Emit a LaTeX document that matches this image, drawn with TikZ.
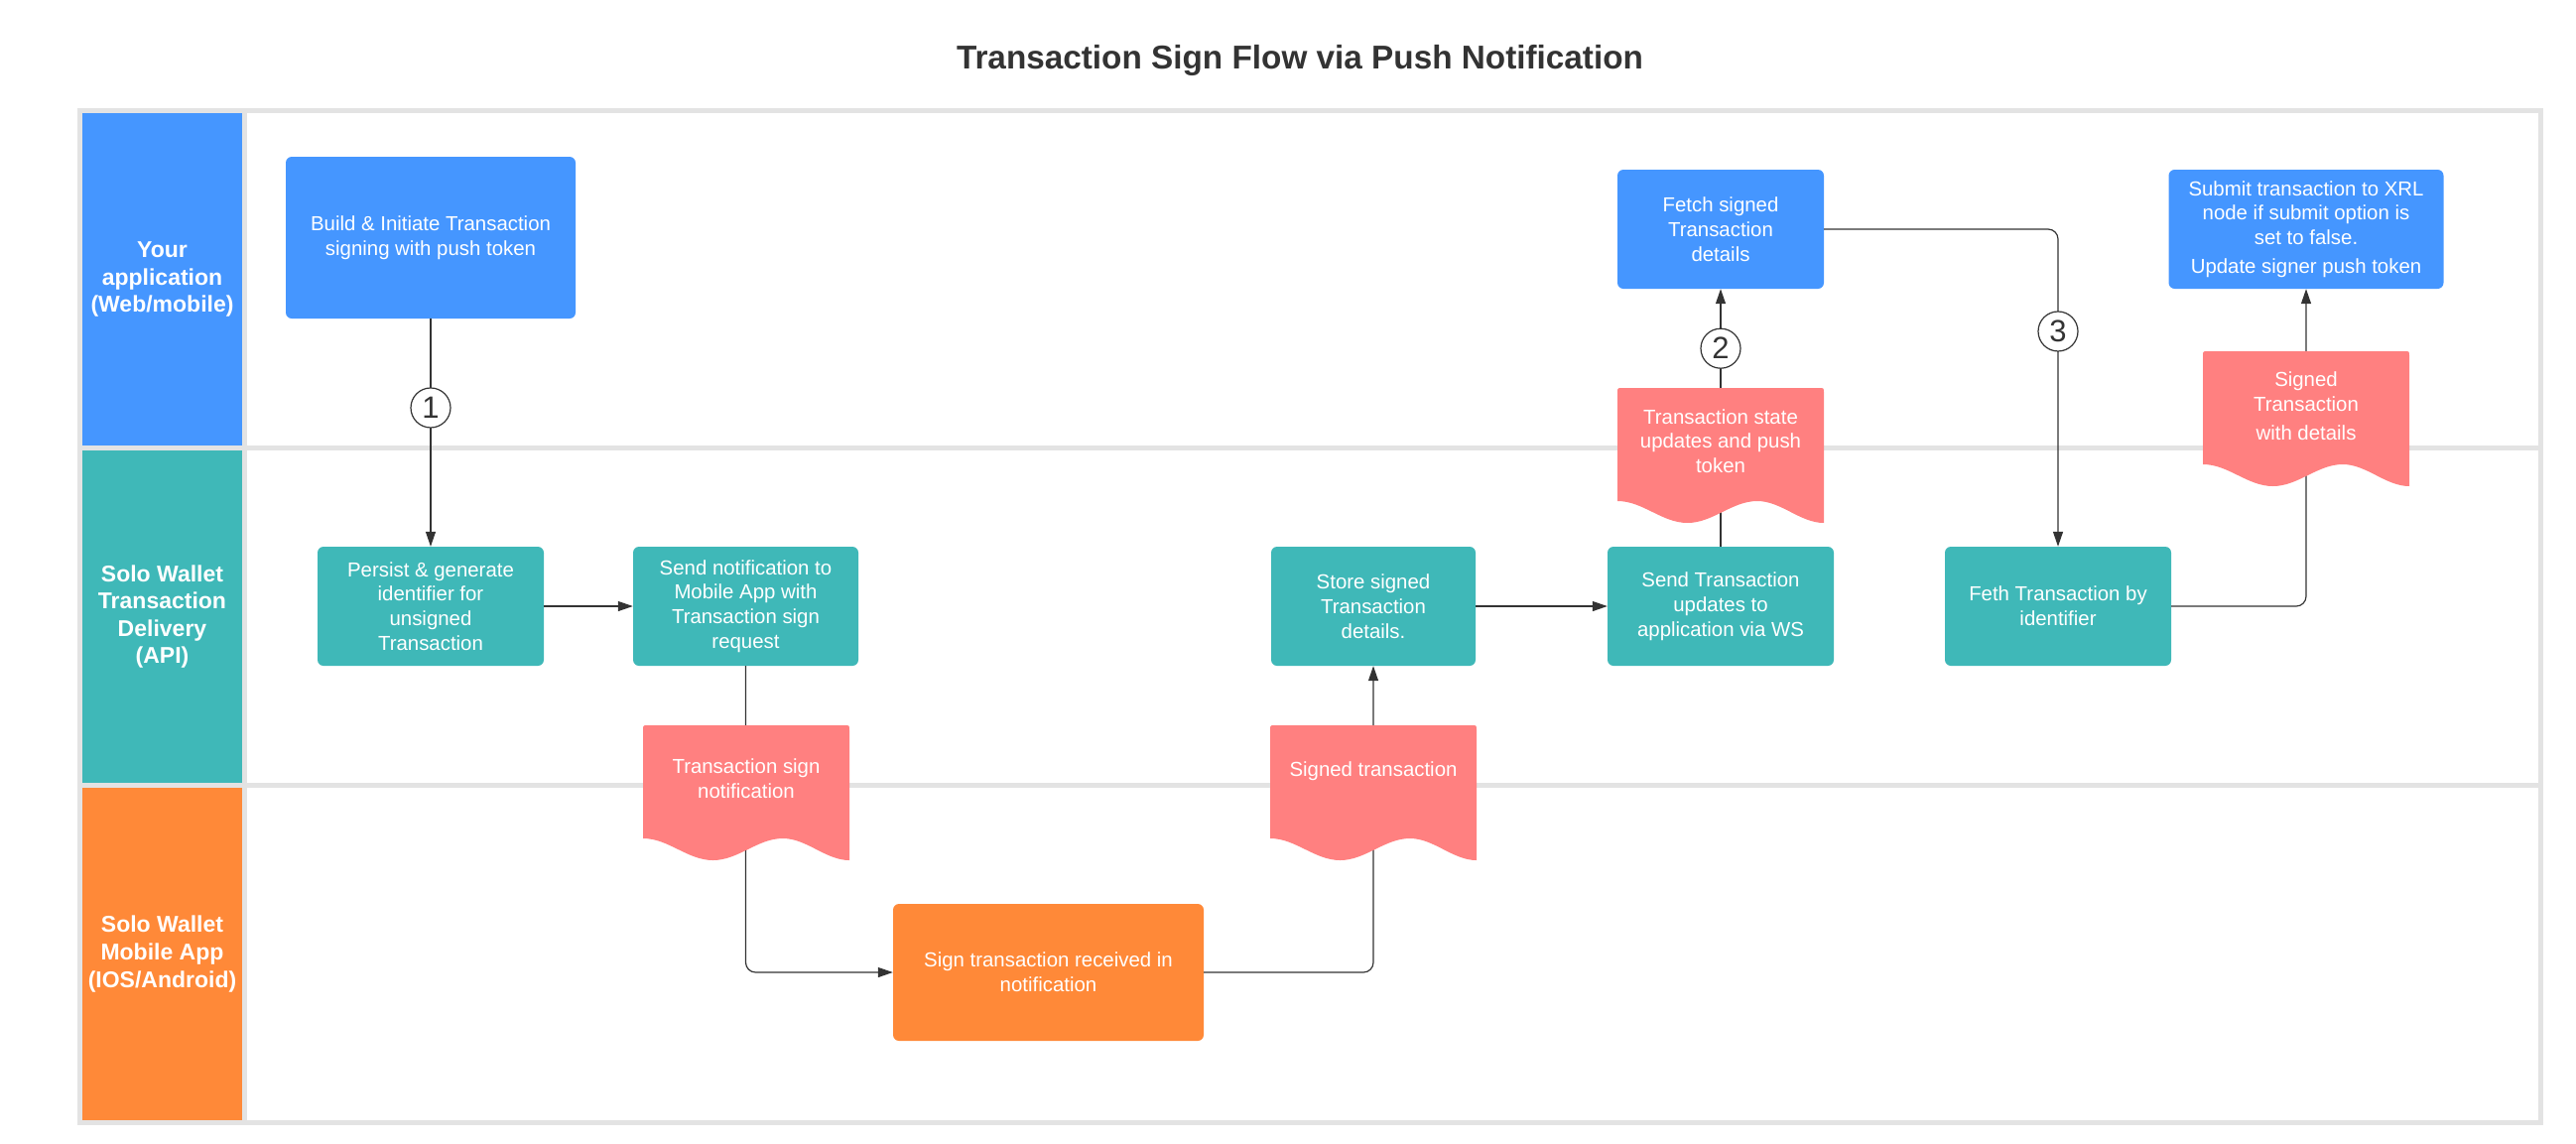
\documentclass[tikz,border=0pt]{standalone}
\usepackage{fontspec}
\setmainfont{Liberation Sans}
\usepackage{tikz}
\usetikzlibrary{arrows.meta}
\definecolor{appblue}{HTML}{4596FF}
\definecolor{apiteal}{HTML}{3FB8B8}
\definecolor{mobor}{HTML}{FF8938}
\definecolor{docpink}{HTML}{FF8080}
\definecolor{framegrey}{HTML}{E3E3E3}
\definecolor{ink}{HTML}{333333}
\tikzset{
  head/.style={text=white, align=center, inner sep=0pt, minimum width=161pt, minimum height=335pt, font=\bfseries\fontsize{23}{27.6}\selectfont},
  box/.style={rounded corners=6pt, text=white, align=center, inner sep=0pt, font=\fontsize{20.4}{24.8}\selectfont},
  doctext/.style={text=white, align=center, inner sep=0pt, font=\fontsize{20.4}{24.8}\selectfont},
  flow/.style={draw=ink, line width=1.2pt, rounded corners=10pt, -{Triangle[length=15pt,width=10pt]}},
  num/.style={circle, draw=ink, line width=1.2pt, fill=white, minimum size=40pt, inner sep=0pt, text=ink, font=\fontsize{31}{31}\selectfont},
  ttl/.style={text=ink, anchor=base, inner sep=0pt, font=\bfseries\fontsize{33.3}{40}\selectfont},
  docwave/.pic={
    \fill[docpink] (0,114) -- (0,5) .. controls (0,0) .. (5,0) -- (203,0) .. controls (208,0) .. (208,5) -- (208,136)
      .. controls (184,136) and (165,114) .. (141,114) .. controls (115.3,114) and (96.2,136) .. (70.5,136)
      .. controls (44.8,136) and (25.7,114) .. (0,114) -- cycle;
  }
}

\begin{document}
\begin{tikzpicture}[x=1pt, y=-1pt]
  \useasboundingbox (0,0) rectangle (2596,1152);

  % swimlanes
  \fill[framegrey] (78,109) rectangle (2563,1134);
  \fill[white] (249,114) rectangle (2558,449);
  \fill[white] (249,454) rectangle (2558,789);
  \fill[white] (249,794) rectangle (2558,1129);
  \node[head, fill=appblue] (hdapp) at (163.5,281.5) {Your\\application\\(Web/mobile)};
  \node[head, fill=apiteal] (hdapi) at (163.5,621.5) {Solo Wallet\\Transaction\\Delivery\\(API)};
  \node[head, fill=mobor] (hdmob) at (163.5,961.5) {Solo Wallet\\Mobile App\\(IOS/Android)};

  \node[ttl] (title) at (1310,69.3) {Transaction Sign Flow via Push Notification};

  % steps
  \node[box, fill=appblue, minimum width=292pt, minimum height=163pt] (build) at (434,239.5) {Build \& Initiate Transaction\\signing with push token};
  \node[box, fill=apiteal, minimum width=228pt, minimum height=120pt] (persist) at (434,611) {Persist \& generate\\identifier for\\unsigned\\Transaction};
  \node[box, fill=apiteal, minimum width=227pt, minimum height=120pt] (sendn) at (751.5,611) {Send notification to\\Mobile App with\\Transaction sign\\request};
  \node[box, fill=mobor, minimum width=313pt, minimum height=138pt] (sign) at (1056.5,980) {Sign transaction received in\\notification};
  \node[box, fill=apiteal, minimum width=206pt, minimum height=120pt] (store) at (1384,611) {Store signed\\Transaction\\details.};
  \node[box, fill=apiteal, minimum width=228pt, minimum height=120pt] (sendtx) at (1734,611) {Send Transaction\\updates to\\application via WS};
  \node[box, fill=appblue, minimum width=208pt, minimum height=120pt] (fetch) at (1734,231) {Fetch signed\\Transaction\\details};
  \node[box, fill=apiteal, minimum width=228pt, minimum height=120pt] (feth) at (2074,611) {Feth Transaction by\\identifier};
  \node[box, fill=appblue, minimum width=277pt, minimum height=120pt] (submit) at (2324,231) {Submit transaction to XRL\\node if submit option is\\set to false.\\[4pt]Update signer push token};

  % connectors
  \draw[flow] (build) -- node[num, pos=0.391] (n1) {1} (persist);
  \draw[flow] (persist) -- (sendn);
  \draw[flow] (sendn.south) |- (sign.west);
  \draw[flow] (sign.east) -| (store.south);
  \draw[flow] (store) -- (sendtx);
  \draw[flow] (sendtx) -- node[num, pos=0.769] (n2) {2} (fetch);
  \draw[flow] (fetch.east) -| node[num, pos=0.661] (n3) {3} (feth.north);
  \draw[flow] (feth.east) -| (submit.south);

  % messages
  \pic at (648,731) {docwave};
  \node[doctext] (signreq) at (752,785) {Transaction sign\\notification};
  \pic at (1280,731) {docwave};
  \node[doctext] (signed) at (1384,777) {Signed transaction};
  \pic at (1630,391) {docwave};
  \node[doctext] (state) at (1734,444.5) {Transaction state\\updates and push\\token};
  \pic at (2220,354) {docwave};
  \node[doctext] (details) at (2324,409) {Signed\\Transaction\\[4pt]with details};
\end{tikzpicture}
\end{document}
